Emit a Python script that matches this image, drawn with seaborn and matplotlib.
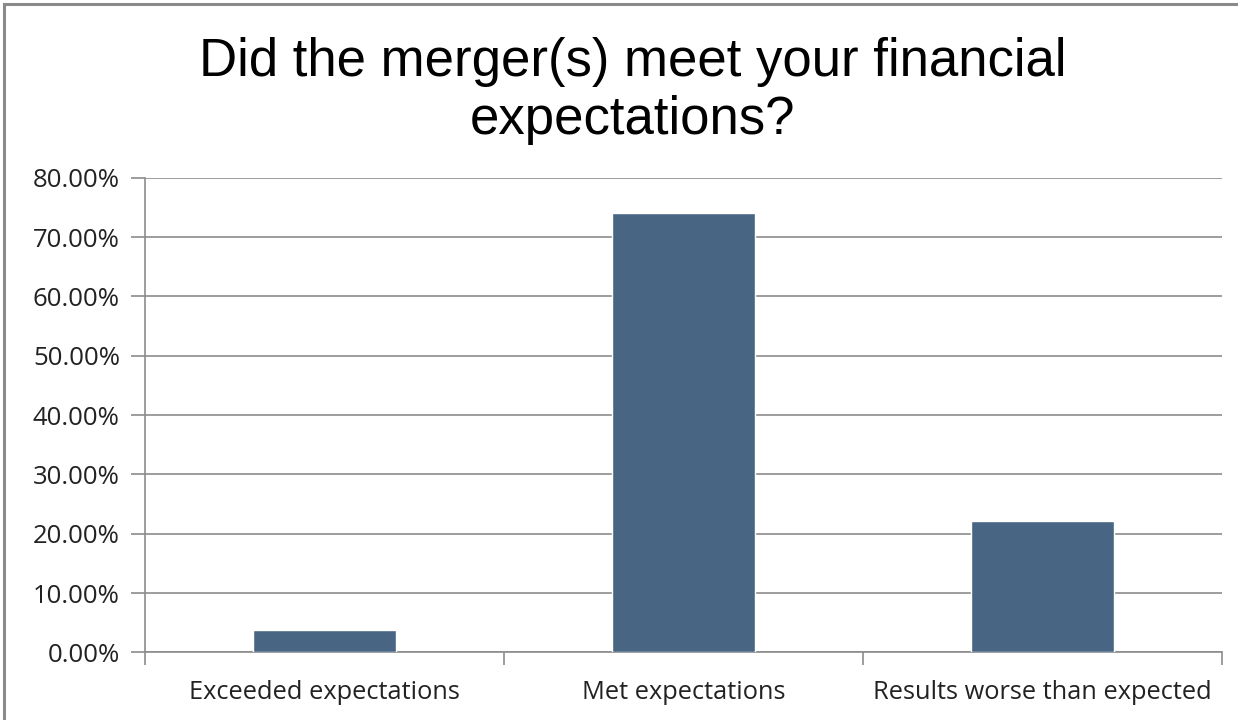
import matplotlib.pyplot as plt
import matplotlib.ticker as mticker
import pandas as pd
import seaborn as sns
from matplotlib.patches import Rectangle

categories = ["Exceeded expectations", "Met expectations", "Results worse than expected"]
shares = [3.70, 74.07, 22.22]
title = "Did the merger(s) meet your financial\nexpectations?"

df = pd.DataFrame({"answer": categories, "share": shares})

sns.set_style("white")
plt.rcParams["font.family"] = ["Liberation Sans", "DejaVu Sans"]

line_color = "#8c8c8c"
bar_color = "#486684"
label_font = ["Open Sans", "DejaVu Sans"]

fig = plt.figure(figsize=(12.38, 7.2), dpi=100)
ax = fig.add_axes([0.117, 0.094, 0.870, 0.659])

sns.barplot(data=df, x="answer", y="share", color=bar_color, width=0.4,
            saturation=1, ax=ax, zorder=3)

ax.set_ylim(0, 80)
ax.set_xlim(-0.5, 2.5)
ax.yaxis.set_major_locator(mticker.MultipleLocator(10))
ax.yaxis.set_major_formatter(mticker.FormatStrFormatter("%.2f%%"))
ax.grid(axis="y", color=line_color, linewidth=1.2, zorder=0)

ax.set_xticks([0, 1, 2])
ax.set_xticks([-0.5, 0.5, 1.5, 2.5], minor=True)
ax.tick_params(axis="x", which="major", length=0, pad=20, labelsize=18.3,
               labelcolor="#222222")
ax.tick_params(axis="x", which="minor", length=9, width=1.2, color=line_color,
               direction="out", bottom=True)
ax.tick_params(axis="y", length=10, width=1.2, color=line_color, direction="out",
               left=True, labelsize=18.5, pad=8, labelcolor="#222222")
for lab in ax.get_xticklabels() + ax.get_yticklabels():
    lab.set_family(label_font)

for side in ["top", "right"]:
    ax.spines[side].set_visible(False)
for side in ["left", "bottom"]:
    ax.spines[side].set_color(line_color)
    ax.spines[side].set_linewidth(1.2)

ax.set_xlabel("")
ax.set_ylabel("")

fig.text(0.511, 0.948, title, ha="center", va="top", fontsize=38,
         linespacing=1.2, color="#000000")

# outer chart frame (only top/left visible in the crop)
fig.patches.append(Rectangle((0.003, -0.05), 1.2, 1.044, transform=fig.transFigure,
                             fill=False, edgecolor="#8a8a8a", linewidth=2.2))

fig.savefig("out.png", dpi=100)
